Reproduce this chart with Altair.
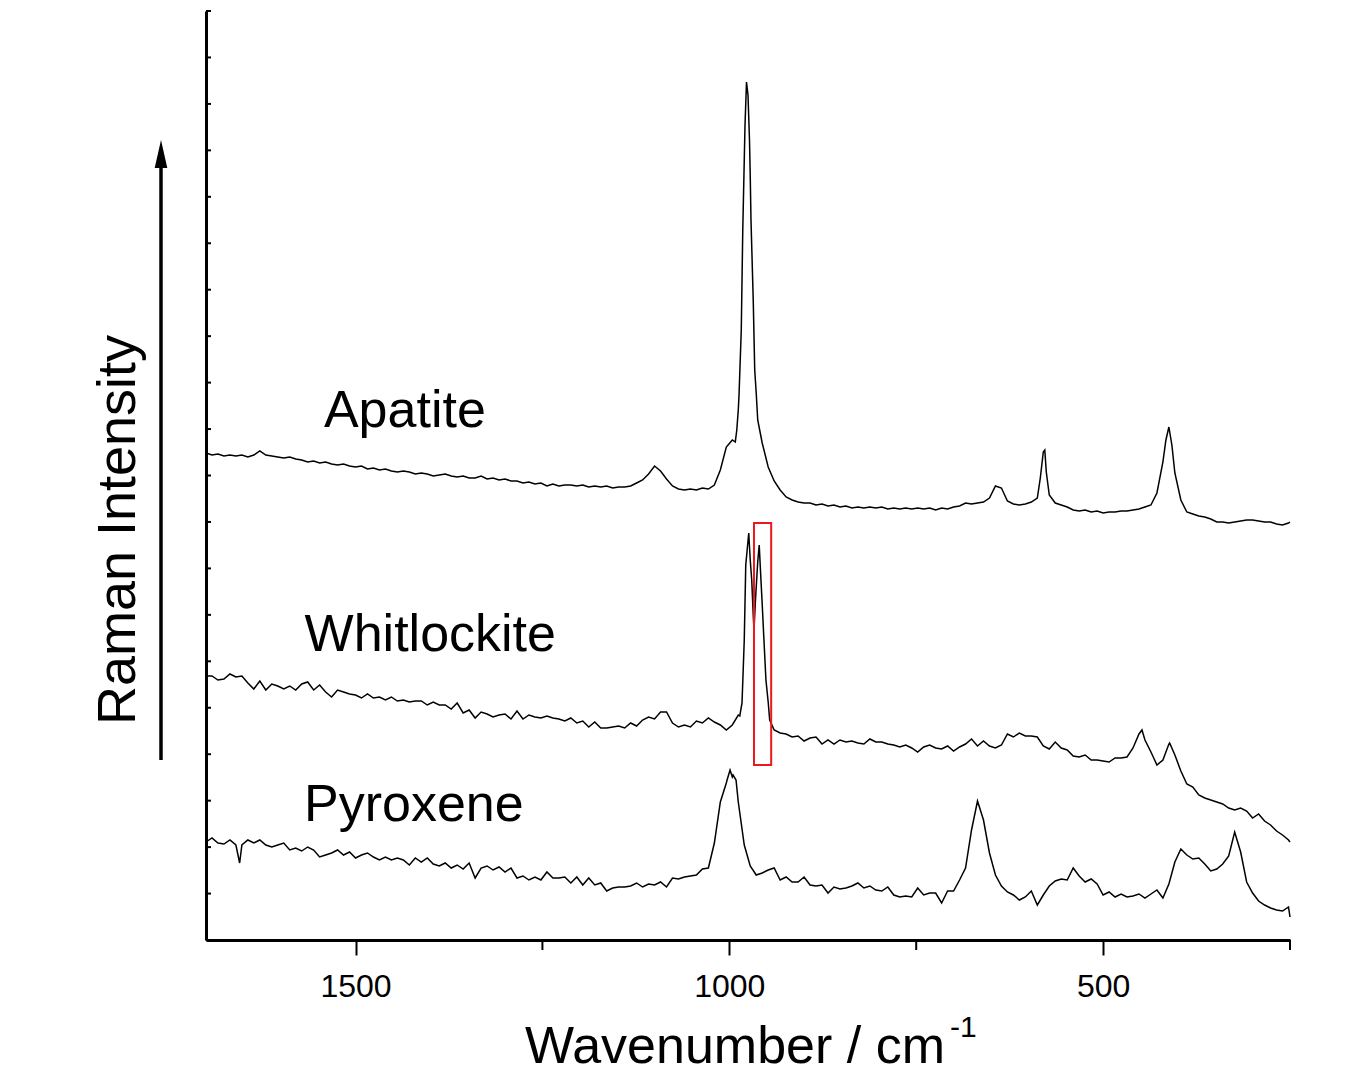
import altair as alt
import pandas as pd

# Raman spectra (x: wavenumber in cm^-1, y: intensity in arbitrary, offset units)
# shared sampling grid 1700 -> 252 cm^-1, 8 cm^-1 step (182 points)
WAVENUMBER = list(range(1700, 251, -8))

APATITE = [
    487, 485, 486, 484, 485, 484, 485, 483, 485, 489,
    485, 484, 483, 482, 483, 481, 480, 478, 479, 477,
    478, 476, 475, 476, 474, 473, 474, 471, 472, 470,
    471, 469, 468, 469, 468, 466, 467, 466, 464, 465,
    466, 464, 463, 464, 462, 462, 464, 461, 462, 460,
    461, 459, 459, 457, 458, 456, 457, 454, 456, 454,
    455, 455, 454, 455, 453, 454, 453, 454, 452, 453,
    453, 454, 457, 460, 466, 474, 469, 461, 454, 451,
    450, 451, 450, 452, 451, 455, 470, 493, 500, 530,
    780, 764, 547, 497, 473, 459, 450, 443, 440, 438,
    437, 437, 435, 436, 434, 435, 433, 434, 432, 433,
    432, 433, 432, 433, 431, 432, 431, 432, 431, 432,
    431, 432, 430, 432, 431, 433, 434, 437, 436, 437,
    438, 442, 454, 452, 439, 436, 435, 436, 438, 442,
    488, 445, 437, 435, 433, 430, 429, 430, 428, 429,
    427, 428, 428, 429, 429, 430, 431, 433, 435, 447,
    478, 513, 467, 440, 428, 426, 424, 423, 421, 418,
    418, 417, 418, 419, 420, 420, 419, 418, 418, 416,
    415, 417,
]
APATITE_EXTRA_W = [992, 990, 987, 984, 982, 979, 977, 975, 973, 971, 968, 966, 962,
                   584, 578, 576, 416, 408, 250]
APATITE_EXTRA_I = [498, 510, 545, 610, 710, 815, 858, 845, 800, 720, 640, 570, 520,
                   462, 490, 468, 500, 495, 418]

WHITLOCKITE = [
    264, 264, 260, 261, 266, 263, 264, 257, 251, 259,
    250, 256, 254, 251, 254, 250, 256, 258, 250, 255,
    248, 243, 250, 248, 246, 245, 242, 246, 242, 243,
    240, 243, 239, 240, 238, 239, 239, 235, 238, 235,
    235, 231, 237, 227, 230, 222, 228, 226, 223, 225,
    226, 221, 229, 221, 225, 223, 222, 224, 222, 221,
    219, 222, 217, 219, 213, 218, 212, 212, 213, 214,
    212, 217, 214, 220, 223, 221, 228, 228, 217, 213,
    215, 213, 219, 217, 222, 218, 215, 210, 215, 225,
    300, 380, 353, 336, 238, 210, 207, 206, 203, 204,
    199, 202, 203, 196, 200, 196, 200, 198, 199, 197,
    196, 201, 198, 198, 196, 195, 193, 195, 192, 188,
    193, 195, 192, 191, 194, 189, 193, 196, 201, 194,
    199, 194, 192, 195, 206, 203, 207, 204, 204, 203,
    194, 191, 198, 192, 190, 184, 183, 185, 180, 180,
    179, 178, 182, 182, 183, 192, 206, 200, 188, 175,
    180, 196, 185, 169, 156, 153, 145, 142, 140, 138,
    136, 132, 130, 132, 129, 122, 126, 119, 115, 109,
    105, 100,
]
WHITLOCKITE_EXTRA_W = [986, 983, 978, 974, 970, 968, 967, 965, 962, 960, 958, 954, 951, 946,
                       448, 411, 250]
WHITLOCKITE_EXTRA_I = [224, 237, 375, 407, 360, 325, 310, 340, 378, 395, 365, 305, 260, 220,
                       210, 197, 98]

PYROXENE = [
    98, 102, 97, 96, 100, 95, 95, 100, 97, 100,
    95, 93, 95, 97, 90, 92, 89, 93, 90, 83,
    85, 87, 90, 85, 88, 82, 85, 87, 83, 80,
    83, 80, 82, 80, 75, 82, 78, 82, 76, 74,
    77, 72, 75, 71, 77, 62, 72, 74, 70, 73,
    68, 72, 62, 64, 60, 63, 60, 68, 62, 62,
    63, 57, 63, 55, 62, 55, 57, 49, 52, 53,
    53, 54, 57, 53, 56, 55, 58, 53, 62, 61,
    63, 64, 65, 71, 72, 97, 138, 157, 163, 138,
    95, 74, 65, 67, 70, 72, 60, 63, 58, 58,
    63, 55, 54, 55, 47, 53, 51, 52, 54, 57,
    52, 54, 50, 49, 53, 45, 43, 44, 43, 52,
    45, 47, 47, 37, 49, 49, 60, 72, 110, 139,
    120, 87, 65, 54, 48, 45, 40, 43, 49, 35,
    45, 54, 59, 61, 60, 72, 64, 58, 61, 56,
    45, 48, 43, 46, 43, 44, 46, 42, 46, 50,
    42, 56, 78, 91, 85, 81, 82, 76, 69, 71,
    76, 84, 108, 88, 58, 47, 39, 35, 32, 30,
    29, 33,
]
PYROXENE_EXTRA_W = [1655, 1003, 999, 995, 991, 250]
PYROXENE_EXTRA_I = [77, 160, 170, 165, 160, 23]

SERIES = ["Apatite", "Whitlockite", "Pyroxene"]
LABEL_W = [1434, 1400, 1422]
LABEL_I = [513, 289, 119]

MAJOR_TICKS = [1500, 1000, 500]
MINOR_TICKS = [1250, 750, 250]
Y_TICKS = [929 * i / 20 for i in range(21)]

BOX_W = [967, 944]
BOX_I = [175, 417]

rows = []
for name, vals, ew, ei in [
    ("Apatite", APATITE, APATITE_EXTRA_W, APATITE_EXTRA_I),
    ("Whitlockite", WHITLOCKITE, WHITLOCKITE_EXTRA_W, WHITLOCKITE_EXTRA_I),
    ("Pyroxene", PYROXENE, PYROXENE_EXTRA_W, PYROXENE_EXTRA_I),
]:
    for w, v in zip(WAVENUMBER, vals):
        rows.append({"series": name, "wavenumber": w, "intensity": v})
    for w, v in zip(ew, ei):
        rows.append({"series": name, "wavenumber": w, "intensity": v})
df = pd.DataFrame(rows).sort_values(["series", "wavenumber"])

xscale = alt.Scale(domain=[250, 1700], reverse=True, nice=False, zero=False)
yscale = alt.Scale(domain=[0, 929], nice=False, zero=False)

FONT = "Liberation Sans"

lines = alt.Chart(df).mark_line(color="black", strokeWidth=1.5).encode(
    x=alt.X("wavenumber:Q", scale=xscale,
            axis=alt.Axis(values=MAJOR_TICKS, tickSize=15, tickWidth=2, tickColor="black",
                          domainColor="black", domainWidth=3, labelFontSize=32,
                          labelColor="black", labelPadding=16, grid=False, title=None,
                          labelFont=FONT, format="d")),
    y=alt.Y("intensity:Q", scale=yscale,
            axis=alt.Axis(ticks=False, labels=False, grid=False, domainColor="black",
                          domainWidth=3, title=None)),
    detail="series:N",
)

labels = alt.Chart(pd.DataFrame({"name": SERIES, "wavenumber": LABEL_W,
                                 "intensity": LABEL_I})).mark_text(
    fontSize=52, font=FONT, align="center", baseline="alphabetic", color="black"
).encode(
    x=alt.X("wavenumber:Q", scale=xscale),
    y=alt.Y("intensity:Q", scale=yscale),
    text="name:N",
)

box = alt.Chart(pd.DataFrame({"wavenumber": [BOX_W[0]], "wavenumber2": [BOX_W[1]],
                              "intensity": [BOX_I[0]], "intensity2": [BOX_I[1]]})).mark_rect(
    fillOpacity=0, stroke="#e8191f", strokeWidth=2
).encode(
    x=alt.X("wavenumber:Q", scale=xscale), x2="wavenumber2:Q",
    y=alt.Y("intensity:Q", scale=yscale), y2="intensity2:Q",
)

yticks = alt.Chart(pd.DataFrame({"intensity": Y_TICKS})).mark_rule(
    color="black", strokeWidth=2
).encode(
    y=alt.Y("intensity:Q", scale=yscale), x=alt.value(0), x2=alt.value(5)
)

minor = alt.Chart(pd.DataFrame({"wavenumber": MINOR_TICKS})).mark_rule(
    color="black", strokeWidth=2
).encode(
    x=alt.X("wavenumber:Q", scale=xscale), y=alt.value(929), y2=alt.value(939)
)

one = pd.DataFrame({"a": [0]})
shaft = alt.Chart(one).mark_rule(color="black", strokeWidth=3.5).encode(
    x=alt.value(-45), y=alt.value(749), y2=alt.value(150)
)
head = alt.Chart(one).mark_point(
    shape="M0,-1L0.45,1L-0.45,1Z", filled=True, size=784, color="black", opacity=1
).encode(x=alt.value(-45), y=alt.value(143))

ylabel = alt.Chart(one).mark_text(
    angle=270, fontSize=54, font=FONT, align="center", baseline="alphabetic", color="black"
).encode(x=alt.value(-71), y=alt.value(519), text=alt.value("Raman Intensity"))

xlabel = alt.Chart(one).mark_text(
    fontSize=52, font=FONT, align="center", baseline="alphabetic", color="black"
).encode(x=alt.value(529), y=alt.value(1052), text=alt.value("Wavenumber / cm"))

xsup = alt.Chart(one).mark_text(
    fontSize=30, font=FONT, align="left", baseline="alphabetic", color="black"
).encode(x=alt.value(744), y=alt.value(1026), text=alt.value("-1"))

chart = alt.layer(
    lines, labels, box, yticks, minor, shaft, head, ylabel, xlabel, xsup
).properties(
    width=1084, height=929,
    padding={"left": 198, "top": 3, "right": 50, "bottom": 134},
    autosize=alt.AutoSizeParams(type="none"),
    background="white",
).configure(font=FONT).configure_view(strokeWidth=0)

chart.save("out.html", embed_options={"renderer": "svg", "actions": False})
